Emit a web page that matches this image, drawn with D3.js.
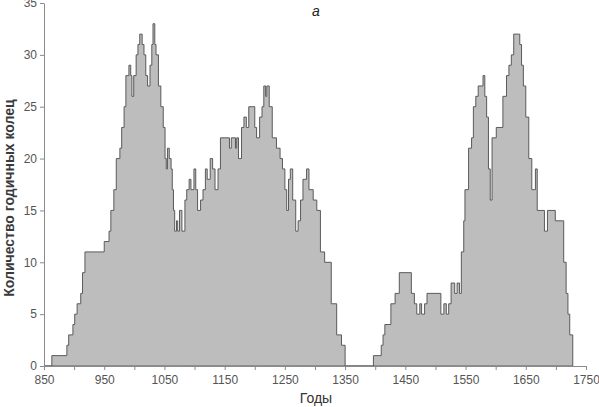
<!DOCTYPE html>
<html>
<head>
<meta charset="utf-8">
<script src="https://cdn.jsdelivr.net/npm/d3@7"></script>
<style>
  body { margin: 0; background: #fff; }
  svg { display: block; font-family: "Liberation Sans", Arial, sans-serif; }
</style>
</head>
<body>
<div id="chart"></div>
<script>
// years where the ring count changes, and the count from that year on
const years = [
  850, 863, 888, 891, 898, 901, 905, 911, 914, 918, 950, 958, 961, 966, 970, 976, 979, 983, 986,
  991, 994, 996, 999, 1003, 1006, 1009, 1013, 1016, 1019, 1022, 1026, 1029, 1031, 1034, 1036,
  1040, 1044, 1048, 1051, 1053, 1055, 1058, 1061, 1063, 1065, 1067, 1070, 1072, 1075, 1079,
  1084, 1087, 1091, 1094, 1099, 1102, 1105, 1110, 1114, 1118, 1121, 1126, 1130, 1134, 1139,
  1143, 1158, 1161, 1168, 1170, 1173, 1178, 1182, 1186, 1190, 1200, 1203, 1208, 1212, 1215,
  1218, 1220, 1224, 1229, 1236, 1242, 1246, 1250, 1253, 1256, 1259, 1263, 1268, 1272, 1276,
  1280, 1286, 1290, 1297, 1303, 1309, 1316, 1327, 1336, 1344, 1350,
  1397, 1410, 1413, 1416, 1426, 1433, 1440, 1460, 1465, 1469, 1474, 1477, 1482, 1486, 1509,
  1514, 1518, 1522, 1526, 1532, 1536, 1540, 1543, 1547, 1549, 1555, 1560, 1563, 1567, 1571,
  1579, 1582, 1585, 1588, 1591, 1594, 1601, 1612, 1618, 1622, 1626, 1630, 1638, 1640, 1643,
  1646, 1650, 1655, 1660, 1666, 1669, 1681, 1686, 1699, 1713, 1717, 1720, 1723, 1728
];
const counts = [
  0, 1, 2, 3, 4, 5, 6, 7, 9, 11, 12, 13, 15, 17, 20, 21, 23, 25, 28,
  29, 28, 26, 28, 30, 31, 32, 31, 30, 28, 27, 29, 31, 33, 31, 30,
  27, 25, 23, 20, 19, 21, 20, 19, 17, 15, 13, 14, 13, 15, 13,
  16, 17, 18, 17, 19, 17, 15, 16, 17, 19, 18, 20, 19, 17, 19,
  22, 21, 22, 21, 22, 20, 23, 24, 23, 25, 23, 22, 24, 25, 27,
  26, 27, 25, 22, 21, 20, 19, 17, 15, 18, 19, 16, 13, 14, 16,
  18, 19, 17, 16, 15, 11, 10, 6, 3, 2, 0,
  1, 2, 3, 4, 6, 7, 9, 7, 6, 5, 6, 5, 6, 7, 5,
  6, 5, 6, 8, 7, 8, 7, 11, 14, 17, 21, 22, 25, 26, 27,
  28, 26, 24, 19, 16, 22, 23, 26, 28, 29, 30, 32, 32, 31, 29,
  27, 24, 20, 17, 19, 15, 13, 15, 14, 10, 7, 5, 3, 0
];
const xTicks = [850, 900, 950, 1000, 1050, 1100, 1150, 1200, 1250, 1300, 1350, 1400, 1450,
  1500, 1550, 1600, 1650, 1700, 1750];
const yTicks = [0, 5, 10, 15, 20, 25, 30, 35];

const data = years.map((y, i) => ({year: y, value: counts[i]}));

const width = 599;
const height = 407;
const margin = {top: 3, right: 13, bottom: 41, left: 44};

const x = d3.scaleLinear().domain([850, 1750]).range([margin.left, width - margin.right]);
const y = d3.scaleLinear().domain([0, 35]).range([height - margin.bottom, margin.top]);

const svg = d3.select("#chart")
  .append("svg")
  .attr("width", width)
  .attr("height", height);

const area = d3.area()
  .curve(d3.curveStepAfter)
  .x(d => x(d.year))
  .y0(y(0))
  .y1(d => y(d.value));

svg.append("path")
  .datum(data)
  .attr("fill", "#bdbdbd")
  .attr("stroke", "#5a5a5a")
  .attr("stroke-width", 1)
  .attr("d", area);

// x axis, labels on every other tick
const xAxis = svg.append("g")
  .attr("transform", `translate(0,${y(0)})`)
  .call(d3.axisBottom(x).tickValues(xTicks).tickSize(4).tickSizeOuter(0)
    .tickFormat(d => (d - 850) % 100 === 0 ? d : ""));

const yAxis = svg.append("g")
  .attr("transform", `translate(${margin.left},0)`)
  .call(d3.axisLeft(y).tickValues(yTicks).tickSize(4).tickSizeOuter(0));

[xAxis, yAxis].forEach(g => {
  g.select(".domain").attr("stroke", "#8a8a8a");
  g.selectAll(".tick line").attr("stroke", "#8a8a8a");
  g.selectAll(".tick text").attr("fill", "#555").style("font-size", "12px");
});
xAxis.selectAll(".tick text").attr("dy", "0.9em");

svg.append("text")
  .attr("x", 316)
  .attr("y", 16)
  .attr("text-anchor", "middle")
  .style("font-style", "italic")
  .style("font-size", "14px")
  .attr("fill", "#222")
  .text("a");

svg.append("text")
  .attr("x", 316)
  .attr("y", 403)
  .attr("text-anchor", "middle")
  .style("font-size", "14px")
  .attr("fill", "#333")
  .text("Годы");

svg.append("text")
  .attr("transform", "translate(14,198) rotate(-90)")
  .attr("text-anchor", "middle")
  .style("font-size", "14px")
  .style("font-weight", "bold")
  .attr("fill", "#3a3a3a")
  .text("Количество годичных колец");
</script>
</body>
</html>
